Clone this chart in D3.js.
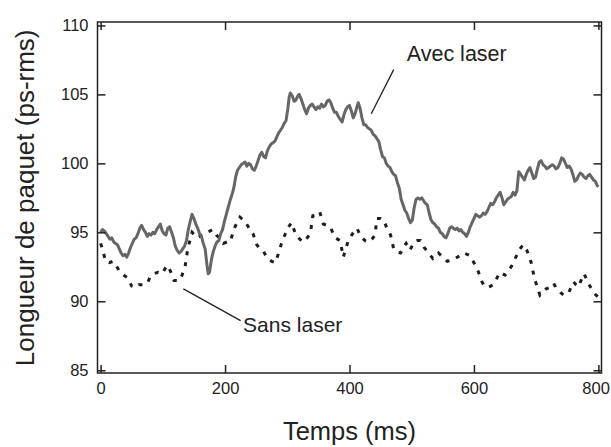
<!DOCTYPE html>
<html>
<head>
<meta charset="utf-8">
<script src="https://cdn.jsdelivr.net/npm/d3@7"></script>
<style>
  html, body { margin: 0; padding: 0; background: #fff; }
  svg { display: block; }
  text { font-family: "Liberation Sans", Arial, Helvetica, sans-serif; fill: #222; }
</style>
</head>
<body>
<svg id="chart" width="611" height="447"></svg>
<script>
// ---- data ----
const xTicks = [0, 200, 400, 600, 800];
const yTicks = [85, 90, 95, 100, 105, 110];
const xTitle = "Temps (ms)";
const yTitle = "Longueur de paquet (ps-rms)";
const labelAvec = "Avec laser";
const labelSans = "Sans laser";

// Avec laser (solid grey)
const avecT = [0,3,6,9,12,15,18,21,24,27,30,33,36,39,42,45,48,51,54,57,60,63,66,69,72,75,78,81,84,87,90,93,96,99,102,105,108,111,114,117,120,123,126,129,132,135,138,141,144,147,150,153,156,159,162,165,168,171,173,175,178,181,184,187,190,193,196,199,202,205,208,211,214,217,220,223,226,229,232,235,238,241,244,247,250,253,256,259,262,265,268,271,274,277,280,283,286,289,292,295,298,301,303,305,308,311,314,317,319,322,325,328,331,334,337,340,343,346,349,352,355,358,361,364,367,370,373,376,379,382,385,388,391,394,397,400,403,406,409,412,414,417,420,423,426,429,432,435,438,441,444,447,450,453,456,459,462,465,468,471,474,477,480,483,486,489,492,495,498,501,504,507,510,513,516,519,522,525,528,531,534,537,540,543,546,549,552,555,558,561,564,567,570,573,576,579,582,585,588,591,594,597,600,603,606,609,612,615,618,621,624,627,630,633,636,639,642,645,648,651,654,657,660,663,666,669,672,675,678,681,684,687,690,693,696,699,702,705,708,711,714,717,720,723,726,729,732,735,738,741,744,747,750,753,756,759,762,765,768,771,774,777,780,783,786,789,792,795,798,800];
const avecV = [95.0,95.2,95.1,94.9,94.7,94.5,94.6,94.3,94.2,94.1,93.8,93.5,93.3,93.4,93.2,93.5,93.9,94.2,94.5,94.6,94.9,95.3,95.5,95.2,95.0,94.7,94.9,94.8,95.0,94.9,95.2,95.4,95.6,95.1,94.9,94.8,95.3,95.4,95.0,94.6,94.0,93.7,93.5,93.6,93.8,94.0,94.4,95.2,95.8,96.3,96.0,95.6,95.3,94.9,94.7,94.2,93.8,92.6,92.0,92.1,93.0,93.6,94.0,94.3,94.4,94.9,95.2,95.8,96.3,96.8,97.3,97.7,98.2,99.0,99.5,99.7,99.9,100.0,100.1,99.8,100.0,99.9,99.6,99.5,99.8,100.2,100.6,100.8,100.5,100.4,100.9,101.2,101.4,101.5,101.6,101.9,102.2,102.4,102.6,102.9,103.1,104.0,104.8,105.1,104.9,104.5,104.6,104.9,105.0,104.7,104.3,103.9,103.6,104.0,104.2,104.3,104.1,103.9,104.1,104.0,104.3,104.1,104.2,104.5,104.6,104.4,104.0,103.7,103.7,103.4,103.2,103.0,103.5,103.9,104.1,104.2,103.8,103.3,103.6,104.1,104.4,104.0,103.3,102.8,102.8,102.6,102.5,102.4,102.1,102.0,101.8,101.6,101.0,100.5,100.4,100.0,99.8,99.7,99.4,99.2,99.1,98.6,98.2,97.4,97.0,96.6,96.4,96.0,95.7,95.9,96.8,97.4,97.5,97.4,97.5,97.3,97.1,97.0,96.4,95.9,95.7,95.6,95.4,95.3,95.0,94.9,94.7,94.6,94.9,95.3,95.4,95.3,95.2,95.3,95.1,95.2,95.0,94.9,94.7,95.0,95.4,95.7,96.0,96.3,96.2,96.1,96.2,96.4,96.3,96.5,96.8,97.1,97.0,97.2,97.5,97.7,97.9,97.5,97.0,97.2,97.4,97.5,97.6,97.9,97.7,98.0,99.4,99.2,99.0,98.8,99.2,99.5,99.7,99.3,98.9,99.0,99.6,100.1,100.2,99.9,99.8,99.6,99.7,99.8,99.9,99.8,99.6,99.7,100.0,100.4,100.3,100.0,99.7,99.8,99.6,99.2,98.7,98.8,99.1,99.3,99.2,99.0,98.9,99.1,99.2,99.0,98.8,98.7,98.4,98.3];

// Sans laser (dashed black)
const sansT = [0,3,8,14,20,25,30,37,43,50,55,61,68,75,80,86,92,99,104,108,113,118,126,131,136,140,147,155,163,172,180,186,191,197,203,208,216,224,232,240,245,251,256,262,268,275,281,286,290,295,302,307,313,320,326,332,337,341,346,352,358,364,369,377,385,390,394,398,405,412,418,425,431,436,441,444,450,455,460,466,471,476,482,488,491,497,504,509,514,520,527,534,538,543,550,557,564,570,577,583,589,594,600,605,609,613,617,621,627,632,637,642,646,650,656,661,665,669,674,679,685,692,697,702,706,711,716,722,728,732,736,740,744,748,752,756,760,764,768,772,777,782,787,791,795,800];
const sansV = [94.2,93.8,92.9,92.8,92.9,92.6,92.2,91.9,91.7,91.1,91.0,91.2,91.2,91.3,91.8,92.0,92.1,92.0,92.4,92.6,92.1,91.5,91.5,91.9,92.6,93.8,95.0,94.6,94.8,95.0,95.2,94.8,94.6,94.2,94.3,94.3,95.4,96.1,95.8,95.2,94.9,94.1,93.8,93.6,93.1,92.9,92.8,93.5,94.1,94.7,95.4,95.7,94.9,94.5,94.3,94.6,94.9,96.2,96.3,96.5,95.6,95.5,95.4,94.6,94.4,93.2,93.8,94.4,94.9,95.3,94.7,94.4,94.3,94.5,94.8,96.0,96.0,95.9,95.3,94.8,93.8,93.6,93.5,94.0,94.2,93.7,94.3,94.4,94.4,93.9,93.5,93.1,93.3,93.5,93.2,92.9,93.0,93.1,93.3,93.5,93.4,93.3,92.8,92.4,91.9,91.4,91.1,91.0,91.1,91.25,91.7,92.1,92.0,91.9,92.2,92.6,93.0,93.35,93.8,94.1,93.7,92.8,91.7,91.0,90.45,90.7,90.9,91.0,91.3,91.0,90.8,90.6,90.45,90.5,90.6,91.0,91.4,91.2,91.05,91.5,92.0,91.5,91.05,90.8,90.5,90.3];

// ---- chart ----
const svg = d3.select("#chart");
const margin = {left: 97.5, right: 9.5, top: 22, bottom: 74};
const W = 611, H = 447;
const x = d3.scaleLinear().domain([-5, 805]).range([margin.left, W - margin.right]);
const y = d3.scaleLinear().domain([84.8, 110.25]).range([H - margin.bottom, margin.top]);

const [x0, x1] = x.range();
const [y0, y1] = y.range();

// data lines
const line = d3.line().x(d => x(d[0])).y(d => y(d[1]));
const avec = avecT.map((t, i) => [t, avecV[i]]);
const sans = sansT.map((t, i) => [t, sansV[i]]);

svg.append("path").datum(sans)
  .attr("d", line).attr("fill", "none")
  .attr("stroke", "#1e1e1e").attr("stroke-width", 3)
  .attr("stroke-dasharray", "4,7");

svg.append("path").datum(avec)
  .attr("d", line).attr("fill", "none")
  .attr("stroke", "#666").attr("stroke-width", 3)
  .attr("stroke-linejoin", "round");

// axes with inward ticks
const tickLen = 8;
const fs = 16.5;
const gB = svg.append("g").attr("transform", `translate(0,${y0})`)
  .call(d3.axisBottom(x).tickValues(xTicks).tickSize(-tickLen).tickPadding(9).tickFormat(d3.format("d")));
const gT = svg.append("g").attr("transform", `translate(0,${y1})`)
  .call(d3.axisTop(x).tickValues(xTicks).tickSize(-tickLen).tickFormat(""));
const gL = svg.append("g").attr("transform", `translate(${x0},0)`)
  .call(d3.axisLeft(y).tickValues(yTicks).tickSize(-tickLen).tickPadding(9).tickFormat(d3.format("d")));
const gR = svg.append("g").attr("transform", `translate(${x1},0)`)
  .call(d3.axisRight(y).tickValues(yTicks).tickSize(-tickLen).tickFormat(""));

[gB, gT, gL, gR].forEach(g => {
  g.select(".domain").remove();
  g.selectAll(".tick line").attr("stroke", "#222").attr("stroke-width", 1.5);
  g.selectAll(".tick text").attr("font-size", fs).attr("fill", "#222")
    .style("font-family", "'Liberation Sans', Arial, sans-serif");
});
// keep the last x label inside the picture
gB.selectAll(".tick text").filter(d => d === 800).attr("text-anchor", "end").attr("dx", 11);

// frame
svg.append("rect")
  .attr("x", x0).attr("y", y1).attr("width", x1 - x0).attr("height", y0 - y1)
  .attr("fill", "none").attr("stroke", "#222").attr("stroke-width", 1.5);

// axis titles
svg.append("text").attr("x", (x(0) + x(800)) / 2).attr("y", 440)
  .attr("text-anchor", "middle").attr("font-size", 25.5).text(xTitle);
svg.append("text")
  .attr("transform", `translate(34,${(y(85) + y(110)) / 2}) rotate(-90)`)
  .attr("text-anchor", "middle").attr("font-size", 26).text(yTitle);

// annotations
svg.append("text").attr("x", x(492)).attr("y", y(107.4)).attr("font-size", 21.5).text(labelAvec);
svg.append("line")
  .attr("x1", x(471)).attr("y1", y(106.8)).attr("x2", x(435)).attr("y2", y(103.6))
  .attr("stroke", "#222").attr("stroke-width", 1.3);

svg.append("text").attr("x", x(229)).attr("y", y(87.8)).attr("font-size", 21).text(labelSans);
svg.append("line")
  .attr("x1", x(133)).attr("y1", y(90.9)).attr("x2", x(225)).attr("y2", y(88.6))
  .attr("stroke", "#222").attr("stroke-width", 1.3);
</script>
</body>
</html>
